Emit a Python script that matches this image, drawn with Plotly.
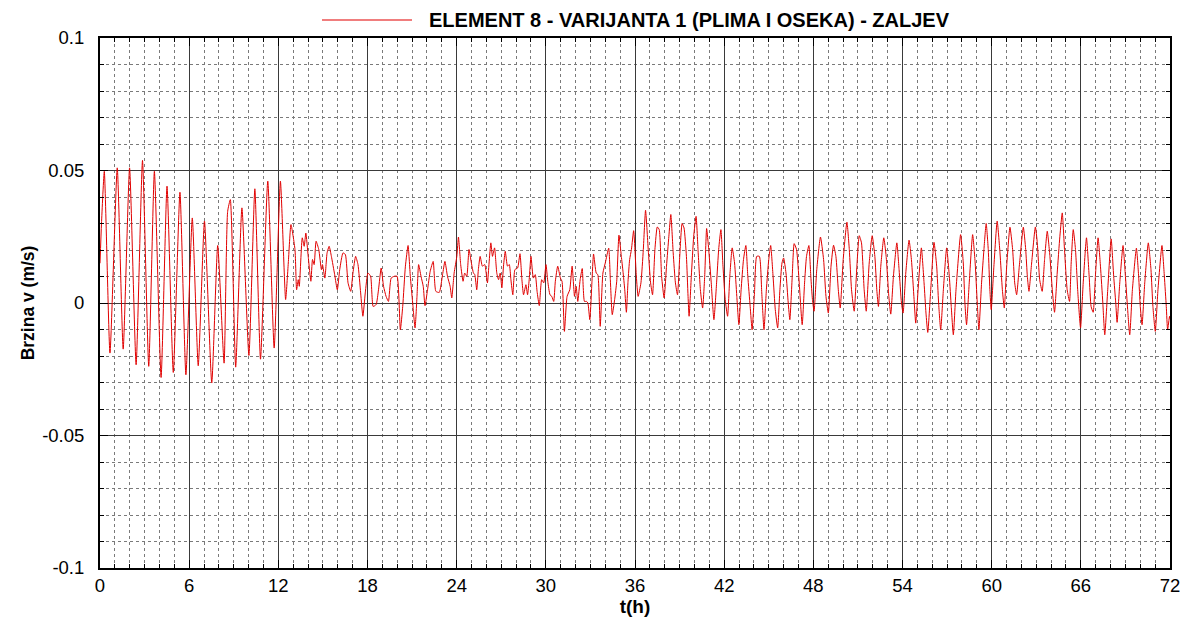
import plotly.graph_objects as go

TITLE = "ELEMENT 8 - VARIJANTA 1 (PLIMA I OSEKA) - ZALJEV"
X_TITLE = "t(h)"
Y_TITLE = "Brzina v (m/s)"
x_ticks = [0, 6, 12, 18, 24, 30, 36, 42, 48, 54, 60, 66, 72]
y_tickvals = [-0.1, -0.05, 0, 0.05, 0.1]
y_ticktext = ["-0.1", "-0.05", "0", "0.05", "0.1"]

t_h = [
    0.00, 0.10, 0.29, 0.67, 1.16, 1.56, 1.99, 2.43, 2.86, 3.28, 3.66, 4.11, 4.51, 4.93, 5.38, 5.78,
    6.21, 6.61, 7.03, 7.52, 7.92, 8.35, 8.59, 8.77, 9.13, 9.55, 10.02, 10.42, 10.80, 11.29, 11.72, 12.14,
    12.49, 12.67, 12.85, 13.12, 13.23, 13.34, 13.41, 13.61, 13.74, 13.85, 14.01, 14.19, 14.30, 14.41, 14.54, 14.72,
    14.90, 14.97, 15.13, 15.28, 15.42, 15.57, 15.79, 15.97, 16.13, 16.35, 16.51, 16.69, 16.87, 17.02, 17.20, 17.36,
    17.54, 17.69, 17.85, 18.03, 18.21, 18.38, 18.58, 18.74, 18.92, 19.08, 19.25, 19.41, 19.59, 19.81, 19.99, 20.21,
    20.37, 20.55, 20.73, 20.88, 21.04, 21.20, 21.33, 21.44, 21.60, 21.75, 21.87, 22.04, 22.22, 22.42, 22.60, 22.83,
    23.05, 23.21, 23.38, 23.56, 23.67, 23.83, 24.01, 24.12,
    24.27, 24.43, 24.54, 24.68, 24.83, 24.99, 25.13, 25.22, 25.35, 25.46, 25.58, 25.73, 25.89, 26.07, 26.18, 26.30,
    26.41, 26.55, 26.70, 26.82, 26.93, 27.04, 27.15, 27.27, 27.42, 27.54, 27.65, 27.78, 27.92, 28.10, 28.26, 28.39,
    28.50, 28.66, 28.77, 28.88, 29.00, 29.16, 29.29, 29.41, 29.56, 29.72, 29.86, 30.01, 30.13, 30.28, 30.40, 30.53,
    30.64, 30.80, 30.98, 31.09, 31.25, 31.43, 31.61, 31.77, 31.93, 32.04, 32.15, 32.31, 32.45, 32.60, 32.74, 32.83,
    32.96, 33.10, 33.21, 33.39, 33.50, 33.66, 33.84, 34.00, 34.23, 34.34, 34.47, 34.63, 34.77, 34.92, 35.08, 35.19,
    35.31, 35.42, 35.53, 35.64, 35.76, 35.91, 36.09, 36.21,
    36.40, 36.56, 36.71, 36.89, 37.05, 37.18, 37.34, 37.50, 37.63, 37.79, 37.96, 38.12, 38.28, 38.41, 38.57, 38.72,
    38.86, 39.01, 39.17, 39.30, 39.46, 39.57, 39.64, 39.79, 39.95, 40.11, 40.24, 40.40, 40.55, 40.69, 40.82, 40.96,
    41.13, 41.31, 41.49, 41.63, 41.78, 41.92, 42.07, 42.23, 42.38, 42.54, 42.70, 42.85, 42.99, 43.14, 43.30, 43.46,
    43.59, 43.75, 43.88, 44.04, 44.19, 44.37, 44.53, 44.68, 44.84, 45.00, 45.13, 45.29, 45.44, 45.60, 45.75, 45.89,
    46.00, 46.16, 46.31, 46.42, 46.58, 46.71, 46.87, 47.05, 47.25, 47.41, 47.54, 47.70, 47.83, 47.94, 48.05, 48.23,
    48.48,
    48.69, 48.85, 49.01, 49.19, 49.36, 49.52, 49.68, 49.81, 50.01, 50.26, 50.42, 50.57, 50.75, 50.93, 51.09, 51.24,
    51.42, 51.56, 51.76, 51.96, 52.14, 52.27, 52.38, 52.54, 52.74, 52.90, 53.08, 53.21, 53.39, 53.62, 53.77, 53.93,
    54.04, 54.22, 54.44, 54.60, 54.78, 54.89, 55.05, 55.27, 55.45, 55.58, 55.70, 55.90, 56.12, 56.30, 56.43, 56.57,
    56.75, 56.97, 57.15, 57.28, 57.42, 57.60, 57.91, 58.09, 58.20, 58.31, 58.49, 58.72, 58.89, 59.03, 59.14, 59.32,
    59.48, 59.63, 59.77, 59.88, 59.97, 60.15, 60.37,
    60.56, 60.72, 60.85, 61.01, 61.23, 61.41, 61.55, 61.68, 61.86, 62.13, 62.29, 62.40, 62.51, 62.69, 62.94, 63.07,
    63.23, 63.40, 63.56, 63.74, 63.92, 64.08, 64.23, 64.41, 64.59, 64.75, 64.90, 65.08, 65.24, 65.35, 65.49, 65.64,
    65.80, 65.98, 66.16, 66.38, 66.56, 66.69, 66.83, 66.98, 67.16, 67.32, 67.48, 67.61, 67.81, 68.04, 68.21, 68.35,
    68.44, 68.62, 68.84, 69.00, 69.15, 69.29, 69.47, 69.74, 69.89, 70.00, 70.12, 70.30, 70.54, 70.72, 70.85, 71.01,
    71.19, 71.46, 71.62, 71.75, 71.84, 71.97, 72.00,
]

v_ms = [
    0.0150, 0.0300, 0.0497, -0.0189, 0.0510, -0.0174, 0.0510, -0.0233, 0.0538, -0.0239, 0.0497, -0.0281, 0.0441, -0.0262, 0.0418, -0.0271,
    0.0321, -0.0237, 0.0309, -0.0302, 0.0217, -0.0227, 0.0346, 0.0390, -0.0242, 0.0359, -0.0198, 0.0431, -0.0212, 0.0460, -0.0170, 0.0460,
    0.0013, 0.0151, 0.0296, 0.0202, 0.0050, 0.0088, 0.0063, 0.0246, 0.0214, 0.0264, 0.0176, 0.0082, 0.0164, 0.0145, 0.0233, 0.0202,
    0.0126, 0.0145, 0.0094, 0.0189, 0.0214, 0.0176, 0.0107, 0.0050, 0.0126, 0.0189, 0.0183, 0.0076, 0.0044, 0.0113, 0.0176, 0.0145,
    0.0038, -0.0050, 0.0038, 0.0113, 0.0101, -0.0013, -0.0006, 0.0050, 0.0132, 0.0063, 0.0025, 0.0006, 0.0094, 0.0101, 0.0101, -0.0101,
    -0.0013, 0.0139, 0.0217, 0.0101, 0.0000, -0.0094, 0.0025, 0.0145, 0.0101, 0.0063, -0.0010, 0.0050, 0.0120, 0.0157, 0.0044, 0.0040,
    0.0107, 0.0157, 0.0101, 0.0063, 0.0019, 0.0113, 0.0176, 0.0249,
    0.0145, 0.0082, 0.0113, 0.0101, 0.0202, 0.0151, 0.0113, 0.0107, 0.0050, 0.0126, 0.0176, 0.0139, 0.0145, 0.0076, 0.0151, 0.0227,
    0.0176, 0.0208, 0.0113, 0.0088, 0.0113, 0.0057, 0.0139, 0.0195, 0.0139, 0.0145, 0.0088, 0.0031, 0.0126, 0.0132, 0.0186, 0.0088,
    0.0031, 0.0069, 0.0031, 0.0088, 0.0176, 0.0094, 0.0107, 0.0044, -0.0010, 0.0088, 0.0076, 0.0145, 0.0082, 0.0031, 0.0025, 0.0006,
    0.0082, 0.0139, 0.0094, 0.0082, -0.0107, 0.0025, 0.0050, 0.0139, 0.0025, 0.0063, 0.0006, 0.0088, 0.0130, 0.0006, 0.0006, 0.0000,
    -0.0063, 0.0076, 0.0185, 0.0113, 0.0107, -0.0088, 0.0113, 0.0151, 0.0207, 0.0088, -0.0044, 0.0013, 0.0082, 0.0256, 0.0176, 0.0120,
    0.0050, -0.0035, 0.0082, 0.0164, 0.0202, 0.0273, 0.0101, 0.0025,
    0.0076, 0.0202, 0.0350, 0.0202, 0.0076, 0.0031, 0.0202, 0.0287, 0.0277, 0.0101, 0.0019, 0.0139, 0.0252, 0.0334, 0.0189, 0.0076,
    0.0031, 0.0176, 0.0300, 0.0283, 0.0176, 0.0025, -0.0050, 0.0101, 0.0252, 0.0327, 0.0202, 0.0050, -0.0019, 0.0101, 0.0281, 0.0202,
    0.0076, -0.0063, 0.0076, 0.0202, 0.0277, 0.0139, 0.0013, -0.0050, 0.0101, 0.0208, 0.0151, 0.0025, -0.0082, 0.0050, 0.0164, 0.0217,
    0.0101, -0.0013, -0.0101, 0.0038, 0.0176, 0.0176, 0.0038, -0.0101, 0.0050, 0.0164, 0.0217, 0.0101, -0.0025, -0.0094, 0.0050, 0.0151,
    0.0170, 0.0113, 0.0000, -0.0063, 0.0101, 0.0224, 0.0202, 0.0076, -0.0082, 0.0076, 0.0176, 0.0217, 0.0101, 0.0013, -0.0031, 0.0126,
    0.0249,
    0.0164, 0.0025, -0.0038, 0.0139, 0.0218, 0.0176, 0.0050, -0.0019, 0.0164, 0.0305, 0.0202, 0.0050, -0.0031, 0.0139, 0.0254, 0.0227,
    0.0050, -0.0031, 0.0151, 0.0254, 0.0176, 0.0050, -0.0013, 0.0139, 0.0246, 0.0176, 0.0025, -0.0042, 0.0101, 0.0227, 0.0126, 0.0000,
    -0.0038, 0.0113, 0.0237, 0.0164, 0.0013, -0.0076, 0.0050, 0.0208, 0.0076, -0.0038, -0.0111, 0.0050, 0.0229, 0.0139, 0.0000, -0.0101,
    0.0050, 0.0208, 0.0101, -0.0013, -0.0120, 0.0050, 0.0258, 0.0151, 0.0000, -0.0082, 0.0076, 0.0258, 0.0151, 0.0000, -0.0101, 0.0076,
    0.0202, 0.0300, 0.0202, 0.0050, -0.0025, 0.0139, 0.0309,
    0.0189, 0.0050, -0.0019, 0.0139, 0.0286, 0.0202, 0.0076, 0.0031, 0.0139, 0.0286, 0.0202, 0.0101, 0.0044, 0.0151, 0.0287, 0.0227,
    0.0088, 0.0044, 0.0164, 0.0271, 0.0176, 0.0050, -0.0035, 0.0113, 0.0252, 0.0340, 0.0202, 0.0050, 0.0006, 0.0151, 0.0277, 0.0202,
    0.0038, -0.0094, 0.0076, 0.0246, 0.0101, -0.0013, -0.0035, 0.0101, 0.0246, 0.0139, 0.0000, -0.0120, 0.0050, 0.0242, 0.0101, 0.0000,
    -0.0073, 0.0076, 0.0217, 0.0101, -0.0025, -0.0120, 0.0050, 0.0207, 0.0101, -0.0013, -0.0082, 0.0076, 0.0227, 0.0126, -0.0013, -0.0107,
    0.0050, 0.0217, 0.0101, -0.0013, -0.0101, -0.0050, -0.0060,
]

LINE_COLOR = "rgb(225,0,0)"
GRID = "#3a3a3a"
FONT = "Liberation Sans, Arial, sans-serif"

fig = go.Figure()
fig.add_trace(go.Scatter(
    x=t_h, y=v_ms, mode="lines", name=TITLE,
    line=dict(color=LINE_COLOR, width=1, shape="spline", smoothing=0.5),
    showlegend=False,
))

# legend-like header (sample line + label)
fig.add_shape(type="line", xref="paper", yref="paper",
              x0=(322 - 100) / 1070, x1=(412 - 100) / 1070, y0=1.034, y1=1.034,
              line=dict(color="rgb(240,125,125)", width=2))
fig.add_annotation(text="<b>" + TITLE + "</b>", xref="paper", yref="paper",
                   x=(427 - 100) / 1070, y=1.034, xanchor="left", yanchor="middle",
                   showarrow=False, font=dict(family=FONT, size=20, color="black"))

axis_common = dict(
    showline=True, linecolor="black", linewidth=2, mirror="ticks",
    ticks="inside", ticklen=8, tickcolor="black", tickwidth=1,
    showgrid=True, gridcolor=GRID, gridwidth=1, automargin=False,
    tickfont=dict(family=FONT, size=18.5, color="black"),
)

fig.update_xaxes(
    range=[0, 72], tickvals=x_ticks, zeroline=False, ticklabelstandoff=0,
    minor=dict(dtick=1, tick0=0, showgrid=True, gridcolor="#7a7a7a", griddash="dot",
               gridwidth=1, ticks="inside", ticklen=4, tickcolor="black"),
    title=dict(text="<b>" + X_TITLE + "</b>", font=dict(family=FONT, size=19, color="black"), standoff=2),
    **axis_common,
)
fig.update_yaxes(
    range=[-0.1, 0.1], tickvals=y_tickvals, ticktext=y_ticktext, ticklabelstandoff=10,
    zeroline=True, zerolinecolor=GRID, zerolinewidth=1,
    minor=dict(dtick=0.01, tick0=0, showgrid=True, gridcolor="#7a7a7a", griddash="dot",
               gridwidth=1, ticks="inside", ticklen=4, tickcolor="black"),
    title=dict(text="<b>" + Y_TITLE + "</b>", font=dict(family=FONT, size=17.5, color="black"), standoff=3),
    **axis_common,
)

fig.update_layout(
    width=1195, height=635,
    margin=dict(l=92, r=33, t=30, b=75),
    paper_bgcolor="white", plot_bgcolor="white",
    font=dict(family=FONT, color="black"),
)

fig.write_html("out.html")
